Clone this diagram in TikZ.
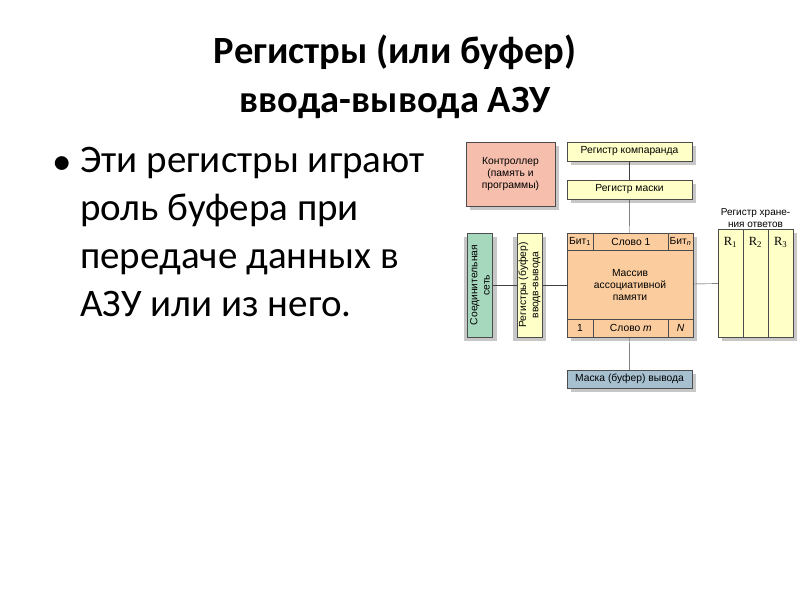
\documentclass[tikz,border=0pt]{standalone}
\usepackage{fontspec}
\setmainfont{Carlito}
\newfontfamily\arialfont{Liberation Sans}
\newfontfamily\timesfont{Liberation Serif}
\usetikzlibrary{positioning, calc, shadows}

\definecolor{ctrlred}{RGB}{246,190,172}
\definecolor{regyellow}{RGB}{255,255,200}
\definecolor{arrtan}{RGB}{250,204,158}
\definecolor{netgreen}{RGB}{166,216,190}
\definecolor{outblue}{RGB}{166,192,208}

\begin{document}
\begin{tikzpicture}[x=1pt, y=-1pt,
  blk/.style={draw=black!70, fill=#1, minimum width=125pt, minimum height=19pt, inner sep=1pt, align=center,
    font=\arialfont\fontsize{10.3}{12.3}\selectfont,
    drop shadow={shadow xshift=4pt, shadow yshift=-4pt, fill=black!22, opacity=1}},
  vblk/.style={blk=#1, minimum width=104pt, minimum height=25pt, rotate=90,
    drop shadow={shadow xshift=-4pt, shadow yshift=-4pt, fill=black!22, opacity=1}},
  cell/.style={draw=black!70, minimum height=17pt, inner sep=0pt, font=\arialfont\fontsize{10.3}{12.3}\selectfont},
  rlab/.style={font=\timesfont\fontsize{12.5}{13}\selectfont, inner sep=0pt},
  wire/.style={draw=black!75}
]
\useasboundingbox (0,0) rectangle (800,600);

% title and bullet text
\node[font=\bfseries\fontsize{38.5}{49}\selectfont, align=center] (title) at (395,77) {Регистры (или буфер)\\ввода-вывода АЗУ};
\node[anchor=north west, align=left, inner sep=0pt, font=\fontsize{39}{48}\selectfont] (body) at (80,147)
  {Эти регистры играют\\роль буфера при\\передаче данных в\\АЗУ или из него.};
\node[anchor=base, inner sep=0pt, font=\fontsize{39}{48}\selectfont] (dot) at (62.5,174) {•};

% blocks
\node[blk=ctrlred, minimum width=89pt, minimum height=64pt] (ctrl) at (510.5,174) {Контроллер\\(память и\\программы)};
\node[blk=regyellow] (comp) at (629.5,151.5) {Регистр компаранда};
\node[blk=regyellow] (mask) at (629.5,189.5) {Регистр маски};
\node[blk=arrtan, minimum width=126pt, minimum height=104pt] (arr) at (630,285) {Массив\\ассоциативной\\памяти};
\node[vblk=netgreen] (net) at (480,285) {Соединительная\\сеть};
\node[vblk=regyellow] (io) at (529.5,285) {Регистры (буфер)\\вводв-вывода};
\node[blk=regyellow, minimum width=75pt, minimum height=108pt] (ans) at (755.5,283) {};
\node[blk=outblue, minimum height=18pt] (out) at (629.5,379) {Маска (буфер) вывода};
\node[font=\arialfont\fontsize{10}{12}\selectfont, align=center, anchor=south, inner sep=1pt] (anslab) at (ans.north) {Регистр хране-\\ния ответов};

% cells of the array
\node[cell, anchor=north west, minimum width=26pt] (bit1) at (arr.north west) {Бит\textsubscript{1}};
\node[cell, anchor=north east, minimum width=25pt] (bitn) at (arr.north east) {Бит\textsubscript{\textit{n}}};
\node[cell, anchor=north west, minimum width=75pt] (word1) at (bit1.north east) {Слово 1};
\node[cell, anchor=south west, minimum width=26pt, minimum height=18pt] (one) at (arr.south west) {1};
\node[cell, anchor=south east, minimum width=25pt, minimum height=18pt] (bign) at (arr.south east) {\textit{N}};
\node[cell, anchor=south west, minimum width=75pt, minimum height=18pt] (wordm) at (one.south east) {Слово \textit{m}};

% answer register columns
\draw[draw=black!70] ($(ans.north west)!1/3!(ans.north east)$) -- ($(ans.south west)!1/3!(ans.south east)$);
\draw[draw=black!70] ($(ans.north west)!2/3!(ans.north east)$) -- ($(ans.south west)!2/3!(ans.south east)$);
\node[rlab] (r1) at ($(ans.north west)!1/6!(ans.north east)+(0,14)$) {R\textsubscript{1}};
\node[rlab] (r2) at ($(ans.north west)!3/6!(ans.north east)+(0,14)$) {R\textsubscript{2}};
\node[rlab] (r3) at ($(ans.north west)!5/6!(ans.north east)+(0,14)$) {R\textsubscript{3}};

% connectors
\draw[wire] (comp) -- (mask);
\draw[wire] (mask) -- (arr);
\draw[wire] (arr) -- (out);
\draw[wire] (net) -- (io);
\draw[wire] (io) -- (arr);
\draw[wire] (arr) -- (ans);

\end{tikzpicture}
\end{document}
